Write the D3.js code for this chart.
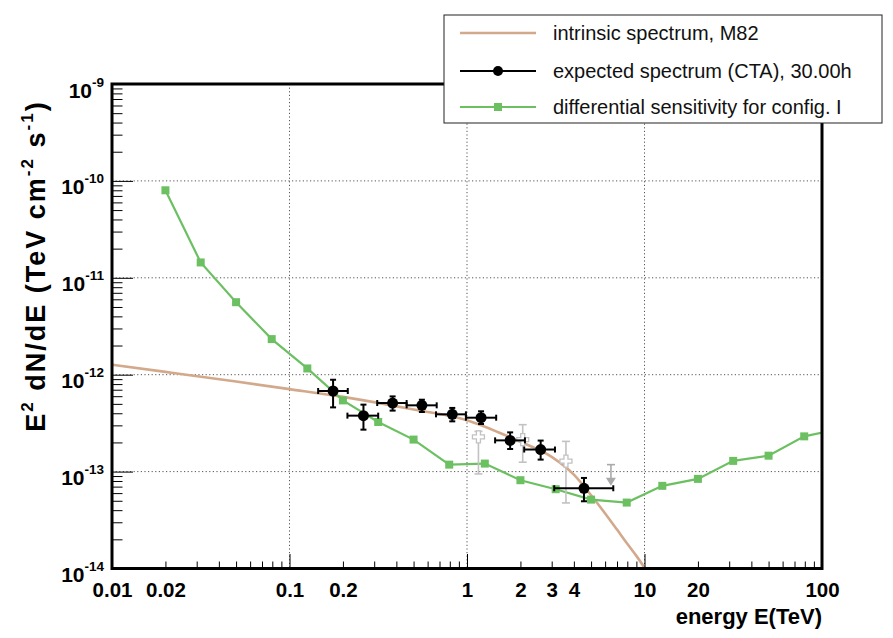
<!DOCTYPE html>
<html><head><meta charset="utf-8">
<script src="https://cdn.jsdelivr.net/npm/d3@7"></script>
<style>body{margin:0;background:#fff} svg{display:block}</style>
</head><body>
<svg id="c" width="893" height="638"></svg>
<script>
// ---- data ----
const intrinsicE    = [0.01, 0.02, 0.05, 0.1, 0.2, 0.5, 1, 1.5, 2, 3, 4, 5, 6, 7, 8, 9, 10, 11];
const intrinsicFlux = [1.27e-12, 1.07e-12, 8.5e-13, 7.1e-13, 5.9e-13, 4.37e-13, 3.38e-13, 2.55e-13, 2.03e-13, 1.42e-13, 9.3e-14, 5.7e-14, 3.7e-14, 2.52e-14, 1.8e-14, 1.35e-14, 1.02e-14, 7.8e-15];

const sensE    = [0.02, 0.0316, 0.05, 0.0794, 0.126, 0.2, 0.316, 0.5, 0.794, 1.26, 2, 3.16, 5, 7.94, 12.6, 20, 31.6, 50, 79.4, 126];
const sensFlux = [8.0e-11, 1.44e-11, 5.6e-12, 2.33e-12, 1.16e-12, 5.43e-13, 3.25e-13, 2.14e-13, 1.18e-13, 1.21e-13, 8.15e-14, 6.58e-14, 5.14e-14, 4.79e-14, 7.13e-14, 8.41e-14, 1.29e-13, 1.46e-13, 2.31e-13, 2.75e-13];

const specE      = [0.176, 0.261, 0.381, 0.557, 0.826, 1.2, 1.75, 2.6, 4.56];
const specELo    = [0.145, 0.212, 0.312, 0.457, 0.669, 0.986, 1.44, 2.1, 3.1];
const specEHi    = [0.213, 0.316, 0.457, 0.675, 0.986, 1.46, 2.12, 3.13, 6.67];
const specFlux   = [6.79e-13, 3.78e-13, 5.1e-13, 4.83e-13, 3.9e-13, 3.6e-13, 2.1e-13, 1.69e-13, 6.73e-14];
const specFluxLo = [4.6e-13, 2.71e-13, 4.26e-13, 4.12e-13, 3.3e-13, 3.1e-13, 1.71e-13, 1.33e-13, 4.94e-14];
const specFluxHi = [8.87e-13, 4.91e-13, 5.97e-13, 5.52e-13, 4.54e-13, 4.19e-13, 2.54e-13, 2.09e-13, 8.6e-14];

const greyE      = [1.16, 2.06, 3.61];
const greyFlux   = [2.28e-13, 2.14e-13, 1.28e-13];
const greyFluxLo = [9.46e-14, 1.25e-13, 4.75e-14];
const greyFluxHi = [2.6e-13, 3.05e-13, 2.05e-13];

const ulE    = [6.47];
const ulFlux = [1.18e-13];

const xMajor = [0.01, 0.1, 1, 10, 100];
const xLabels = [0.01, 0.02, 0.1, 0.2, 1, 2, 3, 4, 10, 20, 100];
const yMajor = [1e-14, 1e-13, 1e-12, 1e-11, 1e-10, 1e-9];
const yExp   = ["-14", "-13", "-12", "-11", "-10", "-9"];
const gridX = [0.1, 1, 10];
const gridY = [1e-13, 1e-12, 1e-11, 1e-10];

const legendLabels = ["intrinsic spectrum, M82", "expected spectrum (CTA), 30.00h", "differential sensitivity for config. I"];

// ---- layout ----
const W = 893, H = 638;
const L = 112, R = 822, T = 84, B = 568.5;
const BROWN = "#d3a98b", GREEN = "#6cc062";
const FONT = "'Liberation Sans', Arial, Helvetica, sans-serif";

const x = d3.scaleLog().domain([0.01, 100]).range([L, R]);
const y = d3.scaleLog().domain([1e-14, 1e-9]).range([B, T]);

const svg = d3.select("#c").style("font-family", FONT);
svg.append("rect").attr("width", W).attr("height", H).attr("fill", "#fff");

function minors(e0, e1) {
  const out = [];
  for (let e = e0; e < e1; e++) for (let m = 2; m <= 9; m++) out.push(+(m + "e" + e));
  return out;
}

// grid
const grid = svg.append("g").attr("stroke", "#555").attr("stroke-width", 1).attr("stroke-dasharray", "1.2,2.4");
grid.selectAll("line.gx").data(gridX).join("line")
  .attr("x1", d => x(d)).attr("x2", d => x(d)).attr("y1", T).attr("y2", B);
grid.selectAll("line.gy").data(gridY).join("line")
  .attr("y1", d => y(d)).attr("y2", d => y(d)).attr("x1", L).attr("x2", R);

// clip
svg.append("clipPath").attr("id", "clip").append("rect")
  .attr("x", L).attr("y", T).attr("width", R - L).attr("height", B - T);
const plot = svg.append("g").attr("clip-path", "url(#clip)");

// intrinsic spectrum
const intrinsic = intrinsicE.map((e, i) => [e, intrinsicFlux[i]]);
plot.append("path").datum(intrinsic)
  .attr("fill", "none").attr("stroke", BROWN).attr("stroke-width", 2.6)
  .attr("d", d3.line().x(d => x(d[0])).y(d => y(d[1])).curve(d3.curveMonotoneX));

// sensitivity
const sens = sensE.map((e, i) => [e, sensFlux[i]]);
plot.append("path").datum(sens)
  .attr("fill", "none").attr("stroke", GREEN).attr("stroke-width", 2.2)
  .attr("d", d3.line().x(d => x(d[0])).y(d => y(d[1])));
plot.selectAll("rect.sq").data(sens).join("rect")
  .attr("x", d => x(d[0]) - 4).attr("y", d => y(d[1]) - 4)
  .attr("width", 8).attr("height", 8).attr("fill", GREEN);

// grey points (open crosses)
const GREY = "#c2c2c2";
const greyPts = greyE.map((e, i) => ({e, f: greyFlux[i], lo: greyFluxLo[i], hi: greyFluxHi[i]}));
const gg = plot.append("g");
greyPts.forEach(p => {
  const cx = x(p.e);
  gg.append("line").attr("x1", cx).attr("x2", cx).attr("y1", y(p.hi)).attr("y2", y(p.lo))
    .attr("stroke", GREY).attr("stroke-width", 1.6);
  [p.hi, p.lo].forEach(v => gg.append("line").attr("x1", cx - 4).attr("x2", cx + 4)
    .attr("y1", y(v)).attr("y2", y(v)).attr("stroke", GREY).attr("stroke-width", 1.6));
  const cy = y(p.f), a = 6, b = 2;
  const pts = [[-b,-a],[b,-a],[b,-b],[a,-b],[a,b],[b,b],[b,a],[-b,a],[-b,b],[-a,b],[-a,-b],[-b,-b]];
  gg.append("path").attr("d", "M" + pts.map(q => (cx + q[0]) + "," + (cy + q[1])).join("L") + "Z")
    .attr("fill", "#fff").attr("stroke", GREY).attr("stroke-width", 1.3);
});
// upper limit
const UL = "#a9a9a9";
ulE.forEach((e, i) => {
  const cx = x(e), cy = y(ulFlux[i]);
  gg.append("line").attr("x1", cx).attr("x2", cx).attr("y1", cy).attr("y2", cy + 14)
    .attr("stroke", UL).attr("stroke-width", 1.6);
  gg.append("line").attr("x1", cx - 4).attr("x2", cx + 4).attr("y1", cy).attr("y2", cy)
    .attr("stroke", UL).attr("stroke-width", 1.6);
  gg.append("path").attr("d", `M${cx - 5},${cy + 13}L${cx + 5},${cy + 13}L${cx},${cy + 21}Z`).attr("fill", UL);
});

// expected spectrum points
const spec = specE.map((e, i) => ({e, lo: specELo[i], hi: specEHi[i], f: specFlux[i], flo: specFluxLo[i], fhi: specFluxHi[i]}));
const sg = plot.append("g").attr("stroke", "#000").attr("stroke-width", 2);
spec.forEach(p => {
  const cx = x(p.e), cy = y(p.f);
  sg.append("line").attr("x1", x(p.lo)).attr("x2", x(p.hi)).attr("y1", cy).attr("y2", cy);
  sg.append("line").attr("x1", cx).attr("x2", cx).attr("y1", y(p.fhi)).attr("y2", y(p.flo));
  [p.lo, p.hi].forEach(v => sg.append("line").attr("x1", x(v)).attr("x2", x(v)).attr("y1", cy - 3).attr("y2", cy + 3));
  [p.fhi, p.flo].forEach(v => sg.append("line").attr("x1", cx - 3).attr("x2", cx + 3).attr("y1", y(v)).attr("y2", y(v)));
});
plot.selectAll("circle.pt").data(spec).join("circle")
  .attr("cx", d => x(d.e)).attr("cy", d => y(d.f)).attr("r", 5.5).attr("fill", "#000");

// axes ticks
function styleAxis(g) { g.select(".domain").remove(); g.selectAll(".tick line").attr("stroke", "#000").attr("stroke-width", 1); }
svg.append("g").attr("transform", `translate(0,${B})`)
  .call(d3.axisBottom(x).tickValues(minors(-2, 2)).tickSize(-7).tickFormat(""))
  .call(styleAxis);
svg.append("g").attr("transform", `translate(0,${B})`)
  .call(d3.axisBottom(x).tickValues(xMajor).tickSize(-14.5).tickFormat(""))
  .call(styleAxis);
const xl = svg.append("g").attr("transform", `translate(0,${B})`)
  .call(d3.axisBottom(x).tickValues(xLabels).tickSize(0).tickPadding(0).tickFormat(d => String(+d.toPrecision(3))))
  .call(styleAxis);
xl.selectAll(".tick text").attr("dy", null).attr("y", 28.5)
  .attr("font-size", 20.5).attr("font-weight", "bold").attr("font-family", FONT).attr("fill", "#000");

svg.append("g").attr("transform", `translate(${L},0)`)
  .call(d3.axisLeft(y).tickValues(minors(-14, -9)).tickSize(-10.5).tickFormat(""))
  .call(styleAxis);
const yl = svg.append("g").attr("transform", `translate(${L},0)`)
  .call(d3.axisLeft(y).tickValues(yMajor).tickSize(-21).tickPadding(9).tickFormat(""))
  .call(styleAxis);
yl.selectAll(".tick text").each(function(d, i) {
  const t = d3.select(this).attr("dy", null).attr("y", 13).attr("x", -8)
    .attr("font-family", FONT).attr("font-weight", "bold").attr("fill", "#000").attr("text-anchor", "end");
  t.text(null);
  t.append("tspan").attr("font-size", 21).text("10");
  t.append("tspan").attr("font-size", 13.5).attr("dy", -11).text(yExp[i]);
});

// frame
svg.append("rect").attr("x", L).attr("y", T).attr("width", R - L).attr("height", B - T)
  .attr("fill", "none").attr("stroke", "#000").attr("stroke-width", 3);

// axis titles
svg.append("text").attr("x", R).attr("y", 624).attr("text-anchor", "end")
  .attr("font-size", 22).attr("font-weight", "bold").text("energy E(TeV)");

const yt = svg.append("text").attr("transform", "translate(45,266) rotate(-90)")
  .attr("text-anchor", "middle").attr("font-size", 27).attr("font-weight", "bold")
  .attr("letter-spacing", 2);
yt.append("tspan").text("E");
yt.append("tspan").attr("font-size", 17).attr("dy", -12).text("2");
yt.append("tspan").attr("dy", 12).text(" dN/dE (TeV cm");
yt.append("tspan").attr("font-size", 17).attr("dy", -12).text("-2");
yt.append("tspan").attr("dy", 12).text(" s");
yt.append("tspan").attr("font-size", 17).attr("dy", -12).text("-1");
yt.append("tspan").attr("dy", 12).text(")");

// legend
const lg = svg.append("g");
lg.append("rect").attr("x", 444).attr("y", 15).attr("width", 438).attr("height", 108)
  .attr("fill", "#fff").attr("stroke", "#222").attr("stroke-width", 1);
const rowY = [33, 71, 107];
lg.append("line").attr("x1", 460).attr("x2", 536).attr("y1", rowY[0]).attr("y2", rowY[0])
  .attr("stroke", BROWN).attr("stroke-width", 2.6);
lg.append("line").attr("x1", 460).attr("x2", 536).attr("y1", rowY[1]).attr("y2", rowY[1])
  .attr("stroke", "#000").attr("stroke-width", 2);
lg.append("circle").attr("cx", 498).attr("cy", rowY[1]).attr("r", 5).attr("fill", "#000");
lg.append("line").attr("x1", 460).attr("x2", 536).attr("y1", rowY[2]).attr("y2", rowY[2])
  .attr("stroke", GREEN).attr("stroke-width", 2.2);
lg.append("rect").attr("x", 494).attr("y", rowY[2] - 4).attr("width", 8).attr("height", 8).attr("fill", GREEN);
lg.selectAll("text").data(legendLabels).join("text")
  .attr("x", 553).attr("y", (d, i) => rowY[i] + 7).attr("font-size", 20).attr("fill", "#111").text(d => d);
</script>
</body></html>
